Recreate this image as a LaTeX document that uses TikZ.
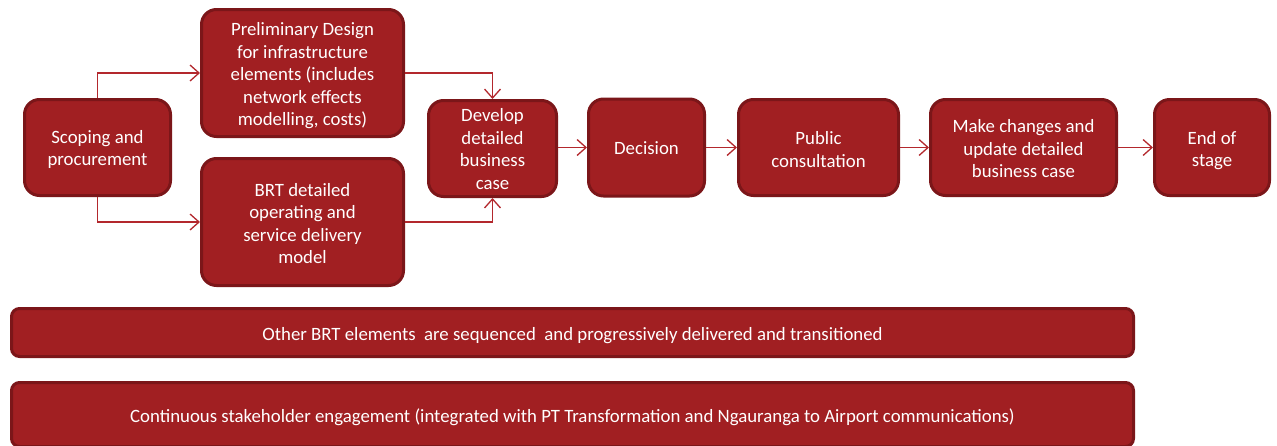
\documentclass[tikz,border=0pt]{standalone}
\usepackage{fontspec}
\setmainfont{Carlito}
\usetikzlibrary{arrows.meta,calc}
\definecolor{boxfill}{HTML}{A11F22}
\definecolor{boxline}{HTML}{7B1619}
\definecolor{arrowcol}{HTML}{B3282D}
\begin{document}
\begin{tikzpicture}[x=1pt,y=-1pt,
  box/.style={draw=boxline,fill=boxfill,line width=3pt,rounded corners=15pt,inner sep=0pt},
  bar/.style={box,rounded corners=8pt},
  txt/.style={text=white,align=center,inner sep=0pt,
    font=\fontsize{18.8}{22.5}\selectfont},
  conn/.style={draw=arrowcol,line width=1.3pt,
    -{Straight Barb[length=9pt,width=16pt,line width=1.3pt]}}]
\useasboundingbox (0,0) rectangle (1277,445);
\node[box,minimum width=146pt,minimum height=96pt] (scop) at (97.5,147.5) {};
\node[box,minimum width=202pt,minimum height=127pt] (prel) at (302.5,73) {};
\node[box,minimum width=202pt,minimum height=127pt] (brt) at (302.5,222) {};
\node[box,minimum width=128pt,minimum height=96pt] (dev) at (492.5,148.5) {};
\node[box,minimum width=116pt,minimum height=97pt] (dec) at (646.5,147.5) {};
\node[box,minimum width=160pt,minimum height=96pt] (pub) at (818.5,147.5) {};
\node[box,minimum width=186pt,minimum height=96pt] (mak) at (1023.5,147.5) {};
\node[box,minimum width=115pt,minimum height=96pt] (end) at (1212,147.5) {};
\node[bar,minimum width=1122pt,minimum height=48pt] (bar1) at (572.5,332.5) {};
\node[bar,minimum width=1122pt,minimum height=64pt] (bar2) at (572.5,414.5) {};
\node[txt,yshift=-2pt] (scop-t) at (scop) {Scoping and\\procurement};
\node[txt,yshift=-3pt] (prel-t) at (prel) {Preliminary Design\\for infrastructure\\elements (includes\\network effects\\modelling, costs)};
\node[txt,yshift=-1.5pt] (brt-t) at (brt) {BRT detailed\\operating and\\service delivery\\model};
\node[txt,yshift=-0.7pt] (dev-t) at (dev) {Develop\\detailed\\business\\case};
\node[txt,yshift=-1pt] (dec-t) at (dec) {Decision};
\node[txt,yshift=-1.8pt] (pub-t) at (pub) {Public\\consultation};
\node[txt,yshift=-1.5pt] (mak-t) at (mak) {Make changes and\\update detailed\\business case};
\node[txt,yshift=-3pt] (end-t) at (end) {End of\\stage};
\node[txt,yshift=-3pt] (bar1-t) at (bar1) {Other BRT elements~ are sequenced~ and progressively delivered and transitioned};
\node[txt,yshift=-3pt] (bar2-t) at (bar2) {Continuous stakeholder engagement (integrated with PT Transformation and Ngauranga to Airport communications)};
\draw[conn] (scop.north) |- (prel.west);
\draw[conn] (scop.south) |- (brt.west);
\draw[conn] (prel.east) -| (dev.north);
\draw[conn] (brt.east) -| (dev.south);
\draw[conn] (dev.east |- dec.west) -- (dec.west);
\draw[conn] (dec.east) -- (pub.west);
\draw[conn] (pub.east) -- (mak.west);
\draw[conn] (mak.east) -- (end.west);
\end{tikzpicture}
\end{document}
